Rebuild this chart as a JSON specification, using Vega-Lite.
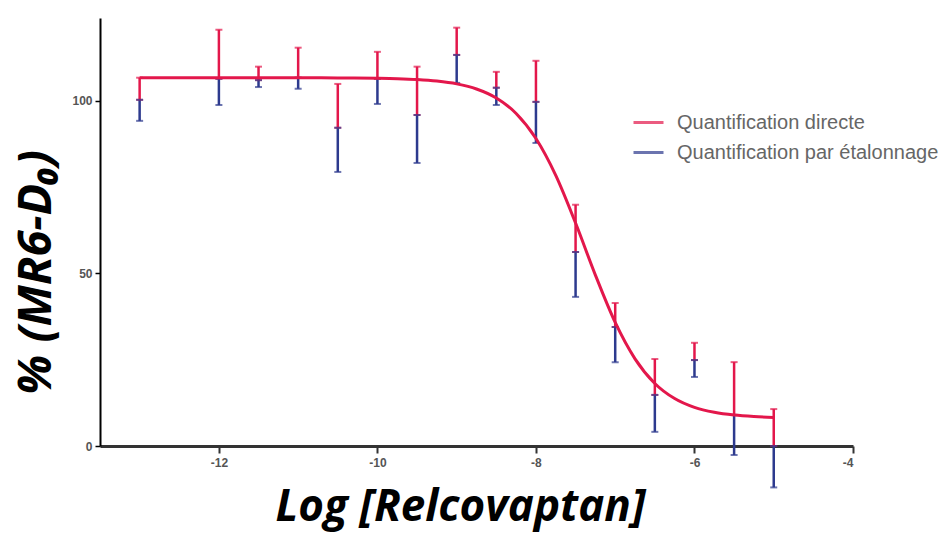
{
  "$schema": "https://vega.github.io/schema/vega-lite/v6.json",
  "width": 753,
  "height": 428,
  "autosize": "none",
  "padding": {"left": 100, "top": 18, "right": 98, "bottom": 88},
  "background": "white",
  "config": {"view": {"stroke": null}},
  "datasets": {
    "bars": [
      {"logc": -13, "series": "Quantification par étalonnage", "lo": 94.2, "hi": 100.3},
      {"logc": -12, "series": "Quantification par étalonnage", "lo": 98.8, "hi": 106.4},
      {"logc": -11.5, "series": "Quantification par étalonnage", "lo": 104.0, "hi": 106.0},
      {"logc": -11, "series": "Quantification par étalonnage", "lo": 103.5, "hi": 106.7},
      {"logc": -10.5, "series": "Quantification par étalonnage", "lo": 79.4, "hi": 92.2},
      {"logc": -10, "series": "Quantification par étalonnage", "lo": 99.1, "hi": 106.4},
      {"logc": -9.5, "series": "Quantification par étalonnage", "lo": 82.0, "hi": 95.9},
      {"logc": -9, "series": "Quantification par étalonnage", "lo": 105.2, "hi": 113.3},
      {"logc": -8.5, "series": "Quantification par étalonnage", "lo": 98.8, "hi": 103.8},
      {"logc": -8, "series": "Quantification par étalonnage", "lo": 87.8, "hi": 99.7},
      {"logc": -7.5, "series": "Quantification par étalonnage", "lo": 43.2, "hi": 56.2},
      {"logc": -7, "series": "Quantification par étalonnage", "lo": 24.3, "hi": 34.5},
      {"logc": -6.5, "series": "Quantification par étalonnage", "lo": 4.1, "hi": 14.8},
      {"logc": -6, "series": "Quantification par étalonnage", "lo": 20.0, "hi": 24.9},
      {"logc": -5.5, "series": "Quantification par étalonnage", "lo": -2.6, "hi": 9.0},
      {"logc": -5, "series": "Quantification par étalonnage", "lo": -12.0, "hi": 0.0},
      {"logc": -13, "series": "Quantification directe", "lo": 100.3, "hi": 106.7},
      {"logc": -12, "series": "Quantification directe", "lo": 106.4, "hi": 120.6},
      {"logc": -11.5, "series": "Quantification directe", "lo": 106.0, "hi": 109.9},
      {"logc": -11, "series": "Quantification directe", "lo": 106.7, "hi": 115.4},
      {"logc": -10.5, "series": "Quantification directe", "lo": 92.2, "hi": 104.9},
      {"logc": -10, "series": "Quantification directe", "lo": 106.4, "hi": 114.2},
      {"logc": -9.5, "series": "Quantification directe", "lo": 95.9, "hi": 109.9},
      {"logc": -9, "series": "Quantification directe", "lo": 113.3, "hi": 121.2},
      {"logc": -8.5, "series": "Quantification directe", "lo": 103.8, "hi": 108.4},
      {"logc": -8, "series": "Quantification directe", "lo": 99.7, "hi": 111.6},
      {"logc": -7.5, "series": "Quantification directe", "lo": 56.2, "hi": 69.9},
      {"logc": -7, "series": "Quantification directe", "lo": 34.5, "hi": 41.4},
      {"logc": -6.5, "series": "Quantification directe", "lo": 14.8, "hi": 25.2},
      {"logc": -6, "series": "Quantification directe", "lo": 24.9, "hi": 29.9},
      {"logc": -5.5, "series": "Quantification directe", "lo": 9.0, "hi": 24.3},
      {"logc": -5, "series": "Quantification directe", "lo": 0.0, "hi": 10.7}
    ],
    "curve": [
      {"logc": -13, "pct": 106.7},
      {"logc": -12, "pct": 106.7},
      {"logc": -11, "pct": 106.69},
      {"logc": -10.5, "pct": 106.65},
      {"logc": -10, "pct": 106.54},
      {"logc": -9.75, "pct": 106.41},
      {"logc": -9.5, "pct": 106.17},
      {"logc": -9.25, "pct": 105.72},
      {"logc": -9, "pct": 104.91},
      {"logc": -8.75, "pct": 103.44},
      {"logc": -8.5, "pct": 100.82},
      {"logc": -8.25, "pct": 96.35},
      {"logc": -8, "pct": 89.09},
      {"logc": -7.75, "pct": 78.41},
      {"logc": -7.5, "pct": 64.59},
      {"logc": -7.25, "pct": 49.52},
      {"logc": -7, "pct": 35.8},
      {"logc": -6.75, "pct": 25.26},
      {"logc": -6.5, "pct": 18.12},
      {"logc": -6.25, "pct": 13.74},
      {"logc": -6, "pct": 11.18},
      {"logc": -5.75, "pct": 9.75},
      {"logc": -5.5, "pct": 8.95},
      {"logc": -5.25, "pct": 8.52},
      {"logc": -5, "pct": 8.28}
    ]
  },
  "layer": [
    {
      "data": {"name": "bars"},
      "mark": {"type": "rule", "strokeWidth": 2.5},
      "encoding": {
        "x": {
          "field": "logc", "type": "quantitative",
          "scale": {"domain": [-13.5, -4], "nice": false, "zero": false},
          "axis": {
            "values": [-12, -10, -8, -6, -4],
            "labelExpr": "'' + datum.value",
            "grid": false,
            "title": "Log [Relcovaptan]",
            "titleFont": "Open Sans", "titleFontStyle": "italic", "titleFontWeight": "bold",
            "titleFontSize": 44, "titleColor": "black",
            "titleX": 360, "titleY": 74, "titleAlign": "center", "titleBaseline": "alphabetic",
            "domainColor": "#333", "domainWidth": 3,
            "tickColor": "#333", "tickWidth": 2, "tickSize": 7,
            "labelFont": "Liberation Sans", "labelFontWeight": "bold", "labelFontSize": 12,
            "labelColor": "#555", "labelPadding": 4
          }
        },
        "y": {
          "field": "lo", "type": "quantitative",
          "scale": {"domain": [0, 124], "nice": false},
          "axis": {
            "values": [0, 50, 100],
            "grid": false,
            "title": "% (MR6-D₀)",
            "titleFont": "Open Sans", "titleFontStyle": "italic", "titleFontWeight": "bold",
            "titleFontSize": 47, "titleColor": "black",
            "titleX": -50, "titleY": 254, "titleAlign": "center", "titleBaseline": "alphabetic",
            "domainColor": "black", "domainWidth": 2,
            "tickColor": "black", "tickWidth": 1.5, "tickSize": 5,
            "labelFont": "Liberation Sans", "labelFontWeight": "bold", "labelFontSize": 12,
            "labelColor": "#555", "labelPadding": 3
          }
        },
        "y2": {"field": "hi"},
        "color": {
          "field": "series", "type": "nominal",
          "scale": {"domain": ["Quantification directe", "Quantification par étalonnage"], "range": ["#e3174b", "#2d3a8e"]},
          "legend": {
            "orient": "none", "legendX": 532, "legendY": 88,
            "title": null, "symbolType": "stroke", "symbolStrokeWidth": 3, "symbolSize": 900,
            "labelFont": "Liberation Sans", "labelFontSize": 20, "labelColor": "#666",
            "labelOffset": 12, "rowPadding": 3, "labelLimit": 0
          }
        }
      }
    },
    {
      "data": {"name": "bars"},
      "mark": {"type": "tick", "orient": "horizontal", "size": 7, "thickness": 2},
      "encoding": {
        "x": {"field": "logc", "type": "quantitative"},
        "y": {"field": "lo", "type": "quantitative"},
        "color": {"field": "series", "type": "nominal"}
      }
    },
    {
      "data": {"name": "bars"},
      "mark": {"type": "tick", "orient": "horizontal", "size": 7, "thickness": 2},
      "encoding": {
        "x": {"field": "logc", "type": "quantitative"},
        "y": {"field": "hi", "type": "quantitative"},
        "color": {"field": "series", "type": "nominal"}
      }
    },
    {
      "data": {"name": "curve"},
      "mark": {"type": "line", "color": "#e3174b", "strokeWidth": 3, "interpolate": "monotone"},
      "encoding": {
        "x": {"field": "logc", "type": "quantitative"},
        "y": {"field": "pct", "type": "quantitative"}
      }
    }
  ]
}
